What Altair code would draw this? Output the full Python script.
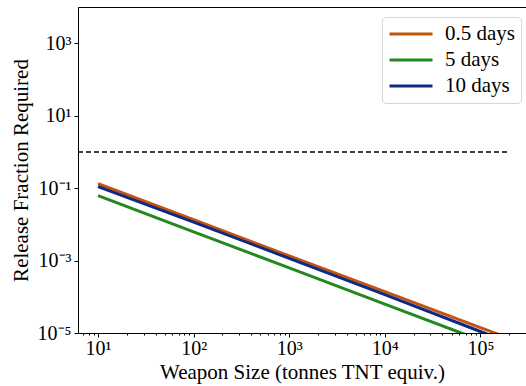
import altair as alt
import pandas as pd

# Series (x = weapon size in tonnes TNT, y = release fraction)
x_half = [10, 100, 1000, 10000, 100000, 160000]
y_half = [0.132, 0.0135, 1.35e-3, 1.38e-4, 1.41e-5, 8.9e-6]

x_five = [10, 100, 1000, 10000, 63000, 80000]
y_five = [0.062, 6.2e-3, 6.3e-4, 6.3e-5, 1.0e-5, 7.9e-6]

x_ten = [10, 100, 1000, 10000, 100000, 126000]
y_ten = [0.110, 0.0115, 1.15e-3, 1.15e-4, 1.1e-5, 8.7e-6]

series_names = ["0.5 days", "5 days", "10 days"]
series_colors = ["#c4530f", "#23891f", "#0c2a84"]

thresh_x = [6.17, 200000]
thresh_y = [1.0, 1.0]

x_domain = [6.17, 300000]
y_domain = [1e-5, 1e4]

x_major = [10, 100, 1000, 10000, 100000]
x_ticks = sorted(set(x_major + [m * d for d in [1, 10, 100, 1000, 10000, 100000] for m in range(2, 10)
                          if x_domain[0] <= m * d <= x_domain[1]]))
y_ticks = [1e-5, 1e-3, 1e-1, 1e1, 1e3]

rows = []
for name, xs, ys in zip(series_names, [x_half, x_five, x_ten], [y_half, y_five, y_ten]):
    for i, (xv, yv) in enumerate(zip(xs, ys)):
        rows.append({"series": name, "x": xv, "y": yv, "i": i})
df = pd.DataFrame(rows)
thr = pd.DataFrame({"x": thresh_x, "y": thresh_y})

FONT = "Liberation Serif"

sup = "['⁰','¹','²','³','⁴','⁵','⁶','⁷','⁸','⁹']"
exp = "round(log(datum.value)/LN10)"
is_major = f"abs(log(datum.value)/LN10 - {exp}) < 0.001"
x_label_expr = f"{is_major} ? '10' + {sup}[{exp}] : ''"
y_label_expr = f"'10' + ({exp} < 0 ? '⁻' : '') + {sup}[abs({exp})]"

xscale = alt.Scale(type="log", domain=x_domain, nice=False)
yscale = alt.Scale(type="log", domain=y_domain, nice=False)

xaxis = alt.Axis(
    title="Weapon Size (tonnes TNT equiv.)",
    values=x_ticks,
    labelExpr=x_label_expr,
    grid=False,
    tickSize={"condition": {"test": is_major, "value": 4}, "value": 2},
    labelFont=FONT, labelFontSize=20, labelColor="black", labelPadding=1,
    titleFont=FONT, titleFontSize=21, titleFontWeight="normal", titleColor="black", titlePadding=3,
    domainColor="black", tickColor="black", labelFlush=False,
)
yaxis = alt.Axis(
    title="Release Fraction Required",
    values=y_ticks,
    labelExpr=y_label_expr,
    grid=False,
    tickSize=4,
    labelFont=FONT, labelFontSize=20, labelColor="black", labelPadding=3,
    titleFont=FONT, titleFontSize=21, titleFontWeight="normal", titleColor="black", titlePadding=6,
    domainColor="black", tickColor="black", labelFlush=False,
)

lines = alt.Chart(df).mark_line(strokeWidth=3, clip=True).encode(
    x=alt.X("x:Q", scale=xscale, axis=xaxis),
    y=alt.Y("y:Q", scale=yscale, axis=yaxis),
    color=alt.Color(
        "series:N",
        scale=alt.Scale(domain=series_names, range=series_colors),
        sort=series_names,
        legend=alt.Legend(
            title=None, orient="none", legendX=304, legendY=10,
            symbolType="stroke", symbolSize=1849, symbolStrokeWidth=3,
            labelFont=FONT, labelFontSize=21, labelColor="black",
            fillColor="white", strokeColor="#d6d6d6", cornerRadius=4,
            padding=6, rowPadding=4, clipHeight=22, labelOffset=11,
        ),
    ),
    order=alt.Order("i:Q"),
)

dashed = alt.Chart(thr).mark_line(color="black", strokeWidth=1.5, strokeDash=[5, 3], clip=True).encode(
    x=alt.X("x:Q", scale=xscale),
    y=alt.Y("y:Q", scale=yscale),
)

chart = alt.layer(dashed, lines).properties(
    width=448, height=326,
    autosize=alt.AutoSizeParams(type="none"),
    padding={"left": 78, "top": 7, "right": 0, "bottom": 53},
    background="white",
).configure_view(stroke="black", strokeWidth=1)

chart.save("out.html", embed_options={"renderer": "svg", "actions": False})
